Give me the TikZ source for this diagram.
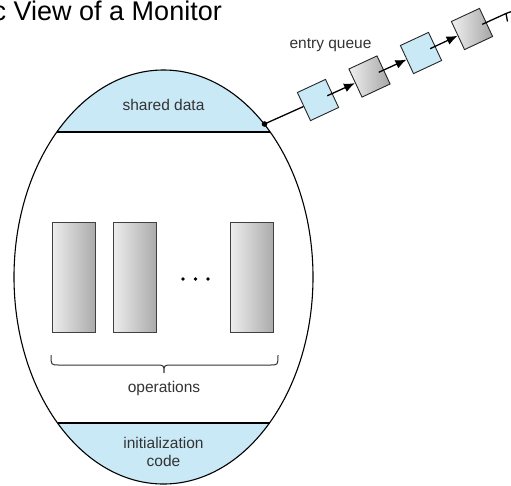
\documentclass[tikz,border=0pt]{standalone}
\usepackage{fontspec}
\setmainfont{Liberation Sans}
\usetikzlibrary{calc,arrows.meta}
\definecolor{lblue}{HTML}{C9E9F7}
\definecolor{txt}{HTML}{333333}
\tikzset{
  opbox/.style={draw=black!75, line width=0.9pt, minimum width=43pt, minimum height=110pt, inner sep=0pt, left color=black!7, right color=black!33},
  qblue/.style={draw=black!85, line width=0.9pt, minimum size=31pt, inner sep=0pt, rotate=25, fill=lblue},
  qgray/.style={draw=black!85, line width=0.9pt, minimum size=31pt, inner sep=0pt, rotate=25, left color=black!6, right color=black!35},
  lbl/.style={text=txt, font=\fontsize{15.5pt}{18pt}\selectfont, inner sep=0pt, align=center},
  qarrow/.style={line width=1.3pt, -{Latex[length=11pt,width=9pt]}},
}
\begin{document}
\begin{tikzpicture}[x=1pt,y=-1pt]
\useasboundingbox (0,0) rectangle (511,485);
% title (cropped as in the reference)
\node[anchor=base west, inner sep=0pt, font=\fontsize{27pt}{30pt}\selectfont] (title) at (-7.5,20) {c View of a Monitor};
% monitor regions
\begin{scope}
  \clip (0,0) rectangle (511,132);
  \fill[lblue] (163.5,277) ellipse [x radius=149.5, y radius=207];
\end{scope}
\begin{scope}
  \clip (0,423) rectangle (511,490);
  \fill[lblue] (163.5,277) ellipse [x radius=149.5, y radius=207];
\end{scope}
\draw[line width=1.1pt] (163.5,277) ellipse [x radius=149.5, y radius=207];
\coordinate (sdL) at (56.8,132);
\coordinate (sdR) at (270.2,132);
\coordinate (icL) at (57.5,423);
\coordinate (icR) at (269.5,423);
\draw[line width=1.1pt] (sdL) -- (sdR);
\draw[line width=1.1pt] (icL) -- (icR);
\node[lbl] (shared) at (163.5,105) {shared data};
\node[lbl] (init) at (163.5,452) {initialization\\code};
% operations
\node[opbox] (op1) at (73.5,277) {};
\node[opbox] (op2) at (134.5,277) {};
\node[opbox] (op3) at (252,277) {};
\foreach \i/\x in {1/183,2/195.5,3/208}
  \fill (\x,279) circle (1.8) coordinate (dot\i);
\coordinate (brL) at (51,355);
\coordinate (brR) at (278,355);
\coordinate (brT) at (164,373);
\draw[line width=1pt, black!80] (brL) .. controls (51,365) .. (59,365) -- (156,365) .. controls (164,365) .. (brT)
  .. controls (164,365) .. (172,365) -- (270,365) .. controls (278,365) .. (brR);
\node[lbl] (ops) at (164,388) {operations};
% entry queue
\coordinate (dot) at (264.5,124);
\fill (dot) circle (2.8);
\node[qblue] (q1) at (318,100) {};
\node[qgray] (q2) at (369.5,76.5) {};
\node[qblue] (q3) at (421,53) {};
\node[qgray] (q4) at (472,29) {};
\node[lbl] (eq) at (330.5,45) {entry queue};
\draw[line width=1.3pt] (dot) -- (q1);
\draw[qarrow] ($(q1)!0.18!(q2)$) -- (q2);
\draw[qarrow] ($(q2)!0.18!(q3)$) -- (q3);
\draw[qarrow] ($(q3)!0.18!(q4)$) -- (q4);
\coordinate (nullend) at (506,13.5);
\draw[line width=1.3pt] ($(q4)!0.3!(nullend)$) -- (nullend) -- (513,11);
\draw[line width=1.3pt] (nullend) -- (507.5,21.5);
\end{tikzpicture}
\end{document}
